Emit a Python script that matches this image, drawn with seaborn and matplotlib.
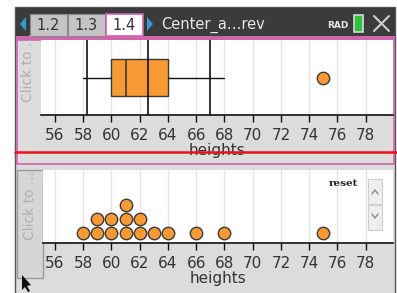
import matplotlib.pyplot as plt
import numpy as np
import pandas as pd
import seaborn as sns
from matplotlib.patches import Polygon, Rectangle

# values
heights = [58, 59, 59, 60, 60, 61, 61, 61, 62, 62, 63, 64, 66, 68, 75]
tick_values = list(range(56, 80, 2))
tab_labels = ["1.2", "1.3", "1.4"]
doc_title = "Center_a…rev"
x_label = "heights"

W, H = 397, 293
ORANGE = "#f89a34"
EDGE = "#3a3a3a"
PANEL = "#dcdcdc"
PINK = "#d063ad"
GRID = "#e4e4e4"


def px_axes(fig, x0, y0, x1, y1, **kw):
    return fig.add_axes([x0 / W, 1 - y1 / H, (x1 - x0) / W, (y1 - y0) / H], **kw)


def x_limits(left, right):
    # 56 sits at x=55 px, 78 at x=365.7 px in both panels
    scale = (365.7 - 55) / 22
    return 56 + (left - 55) / scale, 56 + (right - 55) / scale


def box_stats(vals):
    # TI style quartiles: medians of the lower and upper halves
    v = np.sort(np.asarray(vals, dtype=float))
    n, half = len(v), len(v) // 2
    q1, med, q3 = np.median(v[:half]), np.median(v), np.median(v[n - half:])
    iqr = q3 - q1
    inside = v[(v >= q1 - 1.5 * iqr) & (v <= q3 + 1.5 * iqr)]
    fliers = v[(v < q1 - 1.5 * iqr) | (v > q3 + 1.5 * iqr)]
    stats = dict(med=med, q1=q1, q3=q3, whislo=inside.min(), whishi=inside.max(), fliers=[])
    return stats, fliers


def style_axis(ax, left, right):
    ax.set_xlim(*x_limits(left, right))
    ax.set_xticks(tick_values)
    for t in tick_values:
        ax.axvline(t, color=GRID, lw=1, zorder=0)
    for side in ["top", "right", "left"]:
        ax.spines[side].set_visible(False)
    ax.spines["bottom"].set_color("#111")
    ax.spines["bottom"].set_linewidth(1.2)
    ax.set_yticks([])
    ax.set_ylabel("")
    ax.tick_params(axis="x", direction="out", length=5, width=1, color="#111",
                   labelsize=11, labelcolor="#333", pad=4, bottom=True)
    ax.set_xlabel(x_label, fontsize=11, color="#333", labelpad=0)
    ax.set_facecolor("white")


def main() -> None:
    sns.set_style("white")
    plt.rcParams["font.family"] = ["DejaVu Sans"]

    fig = plt.figure(figsize=(W / 100, H / 100), dpi=100)
    bg = fig.add_axes([0, 0, 1, 1])
    bg.set_xlim(0, W)
    bg.set_ylim(H, 0)
    bg.axis("off")

    # device frame, title bar and tabs
    bg.add_patch(Rectangle((15, 7), 380, 290, fc=PANEL, ec="#555", lw=1))
    bg.add_patch(Rectangle((16, 8), 379, 28, fc="#3b3b3b", ec="none"))
    bg.add_patch(Rectangle((16, 36), 379, 4, fc=PINK, ec="none"))
    bg.add_patch(Polygon([(26, 17), (26, 31), (20, 24)], fc="#2f9ed8", ec="none"))
    for i, lab in enumerate(tab_labels):
        x0 = 30 + i * 38
        active = lab == tab_labels[-1]
        bg.add_patch(Rectangle((x0, 14), 37, 22, fc="white" if active else "#c4c4c4",
                               ec=PINK if active else "#8a8a8a", lw=1.2 if active else 0.8))
        bg.text(x0 + 18.5, 25.5, lab, ha="center", va="center", fontsize=10.5, color="#333")
    bg.add_patch(Polygon([(147, 17), (147, 31), (153, 24)], fc="#2f9ed8", ec="none"))
    bg.text(161, 24.5, doc_title, ha="left", va="center", fontsize=10.5, color="#e8e8e8")
    bg.text(338, 25, "RAD", ha="center", va="center", fontsize=6.5, color="#e8e8e8",
            fontweight="bold")
    bg.add_patch(Rectangle((354, 15), 9, 17, fc="#2fc23a", ec="#d8d8d8", lw=1.2))
    bg.plot([374, 389], [16, 31], color="#d0d0d0", lw=1.5)
    bg.plot([374, 389], [31, 16], color="#d0d0d0", lw=1.5)

    # top panel
    bg.add_patch(Rectangle((16.5, 40), 377, 124, fc=PANEL, ec=PINK, lw=1.2))
    bg.text(28, 67, "Click to ...", rotation=90, ha="center", va="center",
            fontsize=10, color="#b0b0b0")

    # bottom panel
    bg.add_patch(Rectangle((17, 170), 26, 108, fc="#d6d6d6", ec="#9a9a9a", lw=1))
    bg.text(30, 205, "Click to ...", rotation=90, ha="center", va="center",
            fontsize=10, color="#b0b0b0")

    # box plot
    ax1 = px_axes(fig, 41, 40, 393, 115)
    stats, fliers = box_stats(heights)
    ax1.bxp([stats], positions=[0], widths=1, orientation="horizontal",
            showfliers=False, showcaps=False, patch_artist=True,
            boxprops=dict(facecolor=ORANGE, edgecolor=EDGE, linewidth=1),
            medianprops=dict(color=EDGE, linewidth=1.2),
            whiskerprops=dict(color="#111", linewidth=1), manage_ticks=False)
    mean = np.mean(heights)
    sd = np.std(heights, ddof=1)
    for v in [mean - sd, mean, mean + sd]:
        ax1.axvline(v, color="#111", lw=1.2, zorder=4)
    sns.scatterplot(x=fliers, y=np.zeros(len(fliers)), ax=ax1, s=80, color=ORANGE,
                    edgecolor=EDGE, linewidth=1, zorder=5, legend=False)
    ax1.set_ylim(-1, 1)
    style_axis(ax1, 41, 393)

    # dot plot
    ax2 = px_axes(fig, 43, 170, 393, 243)
    df = pd.DataFrame({"height": heights})
    df["level"] = df.groupby("height").cumcount() + 1
    sns.scatterplot(data=df, x="height", y="level", ax=ax2, s=80, color=ORANGE,
                    edgecolor=EDGE, linewidth=1, zorder=3, legend=False, clip_on=False)
    ax2.set_ylim(0.3, 0.3 + 73 / 14)
    style_axis(ax2, 43, 393)
    ax2.text(343, 184, "reset", transform=None, fontsize=7.5, family="DejaVu Serif",
             color="#222", ha="center", va="center", fontweight="bold")

    # overlays: red line, spinner, cursor
    fg = fig.add_axes([0, 0, 1, 1])
    fg.set_xlim(0, W)
    fg.set_ylim(H, 0)
    fg.axis("off")
    fg.patch.set_alpha(0)
    fg.plot([15, 397], [152, 152], color="#ee1111", lw=1.8)
    fg.add_patch(Rectangle((368, 179), 14, 25, fc="#eeeeee", ec="#cfcfcf", lw=0.8))
    fg.add_patch(Rectangle((368, 205), 14, 25, fc="#eeeeee", ec="#cfcfcf", lw=0.8))
    fg.plot([372, 375, 378], [194, 190, 194], color="#888", lw=1)
    fg.plot([372, 375, 378], [214, 218, 214], color="#888", lw=1)
    fg.add_patch(Polygon([(22, 275), (22, 290), (25, 287), (28, 292), (30, 291),
                          (27, 286), (31, 285)], fc="#111", ec="none"))

    # place "reset" in pixel coordinates
    for t in ax2.texts:
        t.set_transform(fg.transData)

    fig.savefig("out.png", dpi=100)
    plt.close(fig)


if __name__ == "__main__":
    main()
